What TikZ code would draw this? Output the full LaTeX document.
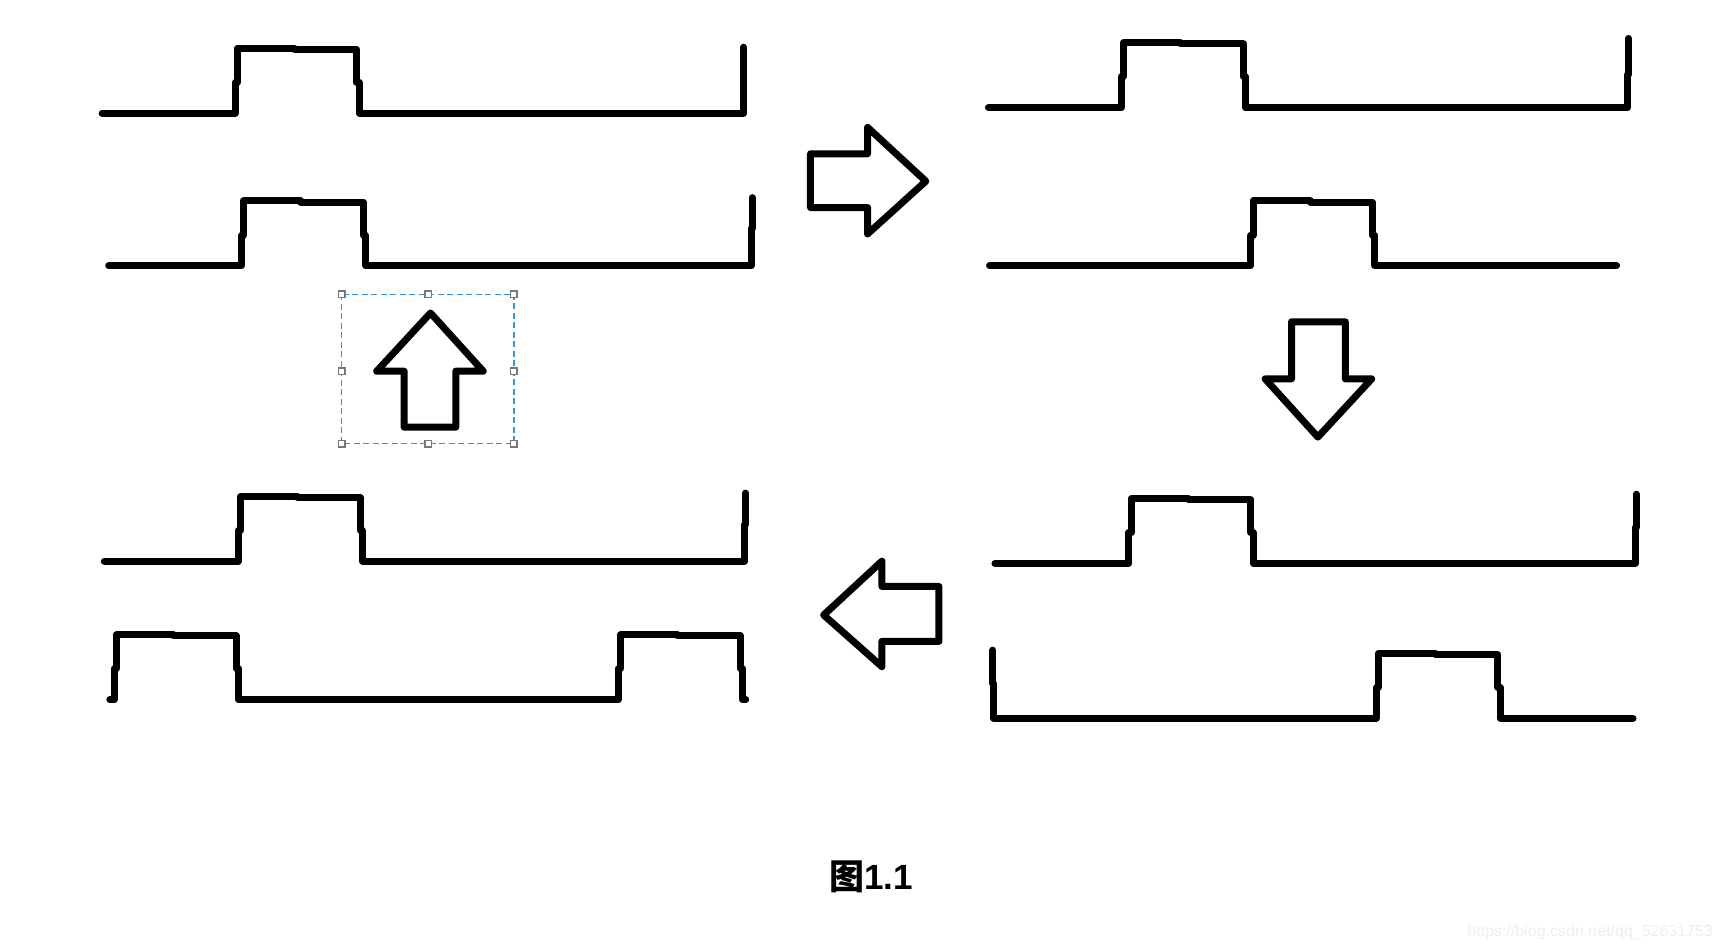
\documentclass[tikz,border=0pt]{standalone}
\usepackage{fontspec}
\setmainfont{Liberation Sans}
\newfontfamily\cjk{Noto Sans CJK SC}
\definecolor{selblue}{RGB}{47,150,232}
\definecolor{handlegray}{RGB}{120,120,120}
\definecolor{markgray}{RGB}{238,238,238}
\newcommand{\pulseup}{-- ++(0,-28) -- ++(2,0) -- ++(0,-31) -- ++(52,0) -- ++(0,1) -- ++(57,0) -- ++(0,30) -- ++(2,0) -- ++(0,28)}
\begin{document}
\begin{tikzpicture}[
    x=1.0982pt, y=-1.0982pt,
    wave/.style={line width=7pt, line cap=round, line join=round},
    bigarrow/.style={line width=7pt, line join=round, line cap=round},
    selbox/.style={draw=selblue, line width=1.5pt, dash pattern=on 6pt off 3.5pt},
    handle/.style={rectangle, draw=handlegray, fill=white, line width=1.5pt, inner sep=0pt, minimum size=6.5pt}
  ]
  \useasboundingbox (0,0) rectangle (1568,865);
  \draw[wave] (93,103) -- (214,103) \pulseup -- (677,103) -- (677,43);
  \draw[wave] (99,242) -- (220,242) \pulseup -- (684,242) -- (684,208) -- (685,208) -- (685,180);
  \draw[wave] (900,98) -- (1021,98) \pulseup -- (1482,98) -- (1482,68) -- (1483,68) -- (1483,35);
  \draw[wave] (901,242) -- (1139,242) \pulseup -- (1472,242);
  \draw[wave] (906,513) -- (1028,513) \pulseup -- (1489,513) -- (1489,480) -- (1490,480) -- (1490,450);
  \draw[wave] (904,592) -- (904,622) -- (905,622) -- (905,654) -- (1253,654) \pulseup -- (1487,654);
  \draw[wave] (95,511) -- (217,511) \pulseup -- (678,511) -- (678,478) -- (679,478) -- (679,449);
  \draw[wave] (100,637) -- (104,637) \pulseup -- (563,637) \pulseup -- (679,637);
  \draw[bigarrow] (738,140) -- (790,140) -- (790,116) -- (843,165) -- (790,213) -- (790,189) -- (738,189) -- cycle;
  \draw[bigarrow] (1176,293) -- (1225,293) -- (1225,345) -- (1249,345) -- (1200,398) -- (1152,345) -- (1176,345) -- cycle;
  \draw[bigarrow] (855,534) -- (803,534) -- (803,511) -- (750,560) -- (803,607) -- (803,584) -- (855,584) -- cycle;
  \draw[bigarrow] (392,285) -- (440,338) -- (415,338) -- (415,389) -- (368,389) -- (368,338) -- (343,338) -- cycle;
  \draw[selbox] (311,268) rectangle (468,404);
  \foreach \name/\hx/\hy in {nw/311/268, n/390/268, ne/468/268, w/311/338, e/468/338, sw/311/404, s/390/404, se/468/404}
    \node[handle] (h\name) at (\hx,\hy) {};
  \node (caption) at (793,798) {\fontsize{35pt}{37pt}\selectfont\bfseries{\cjk 图}1.1};
  \node[text=markgray, anchor=east, inner sep=0pt] (mark) at (1560,849) {\fontsize{16pt}{18pt}\selectfont https://blog.csdn.net/qq\_52631753};
\end{tikzpicture}
\end{document}
